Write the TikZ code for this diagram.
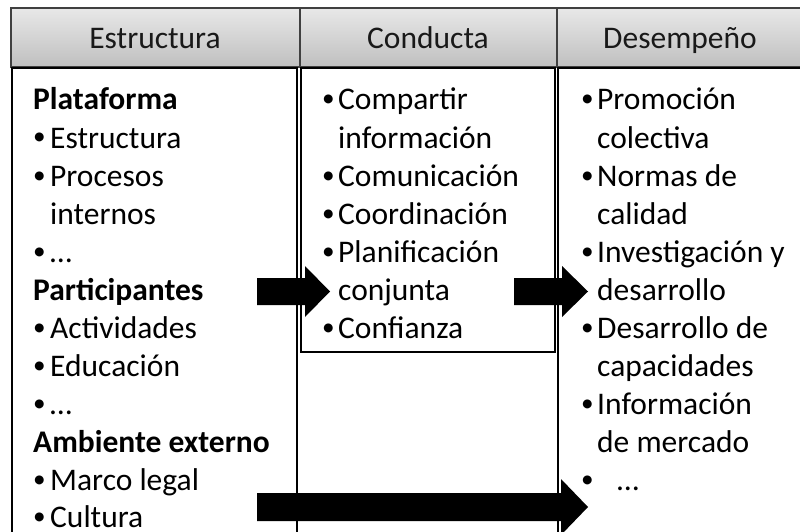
\documentclass[tikz,border=0pt]{standalone}
\usepackage{graphicx}
\usepackage{fontspec}
\setmainfont{Carlito}
\newcommand{\bl}[1]{\makebox[#1][l]{\raisebox{3pt}{\scalebox{0.8}{•}}}}
\begin{document}
\begin{tikzpicture}[x=1pt,y=-1pt,
  txt/.style={anchor=base west, inner sep=0pt, font=\fontsize{31.5}{38}\selectfont},
  hdrtxt/.style={anchor=base, inner sep=0pt, font=\fontsize{31.5}{38}\selectfont, text=black!90},
  hdr/.style={draw=black!75, line width=1.3pt, top color=black!9, bottom color=black!25},
  col/.style={draw=black, line width=2pt},
  blk/.style={fill=black, draw=none}]
\useasboundingbox (0,0) rectangle (800,532);
\clip (0,0) rectangle (800,532);
% headers
\path[hdr] (11,8) rectangle (300,67);
\path[hdr] (300,8) rectangle (557,67);
\path[hdr] (557,8) rectangle (812,67);
\node[hdrtxt] (h1) at (155,49) {Estructura};
\node[hdrtxt] (h2) at (428,49) {Conducta};
\node[hdrtxt] (h3) at (680,49) {Desempeño};
% column boxes
\draw[col] (12,68) rectangle (297,560);
\draw[col] (558,68) rectangle (820,560);
\draw[col] (301,68) rectangle (555,352);
% left column
\node[txt] (l0) at (33,110) {\textbf{Plataforma}};
\node[txt] (l1) at (33,148) {\bl{17pt}Estructura};
\node[txt] (l2) at (33,186) {\bl{17pt}Procesos};
\node[txt] (l3) at (50,224) {internos};
\node[txt] (l4) at (33,262) {\bl{17pt}…};
\node[txt] (l5) at (33,300) {\textbf{Participantes}};
\node[txt] (l6) at (33,338) {\bl{17pt}Actividades};
\node[txt] (l7) at (33,376) {\bl{17pt}Educación};
\node[txt] (l8) at (33,414) {\bl{17pt}…};
\node[txt] (l9) at (33,452) {\textbf{Ambiente externo}};
\node[txt] (l10) at (33,490) {\bl{17pt}Marco legal};
\node[txt, text depth=0pt] (l11) at (33,527) {\bl{17pt}Cultura};
% middle column
\node[txt] (m0) at (322,110) {\bl{16pt}Compartir};
\node[txt] (m1) at (338,148) {información};
\node[txt] (m2) at (322,186) {\bl{16pt}Comunicación};
\node[txt] (m3) at (322,224) {\bl{16pt}Coordinación};
\node[txt] (m4) at (322,262) {\bl{16pt}Planificación};
\node[txt] (m5) at (338,300) {conjunta};
\node[txt] (m6) at (322,338) {\bl{16pt}Confianza};
% right column
\node[txt] (r0) at (581,110) {\bl{16pt}Promoción};
\node[txt] (r1) at (597,148) {colectiva};
\node[txt] (r2) at (581,186) {\bl{16pt}Normas de};
\node[txt] (r3) at (597,224) {calidad};
\node[txt] (r4) at (581,262) {\bl{16pt}Investigación y};
\node[txt] (r5) at (597,300) {desarrollo};
\node[txt] (r6) at (581,338) {\bl{16pt}Desarrollo de};
\node[txt] (r7) at (597,376) {capacidades};
\node[txt] (r8) at (581,414) {\bl{16pt}Información};
\node[txt] (r9) at (597,452) {de mercado};
\node[txt] (r10) at (581,490) {\bl{36pt}…};
% block arrows
\fill[blk] (257,278) -- (305,278) -- (305,266) -- (330,291.5) -- (305,317) -- (305,305) -- (257,305) -- cycle;
\fill[blk] (514,278) -- (562,278) -- (562,266) -- (588,291.5) -- (562,317) -- (562,305) -- (514,305) -- cycle;
\fill[blk] (257,493) -- (561,493) -- (561,479) -- (588,507) -- (561,535) -- (561,521) -- (257,521) -- cycle;
\end{tikzpicture}
\end{document}
